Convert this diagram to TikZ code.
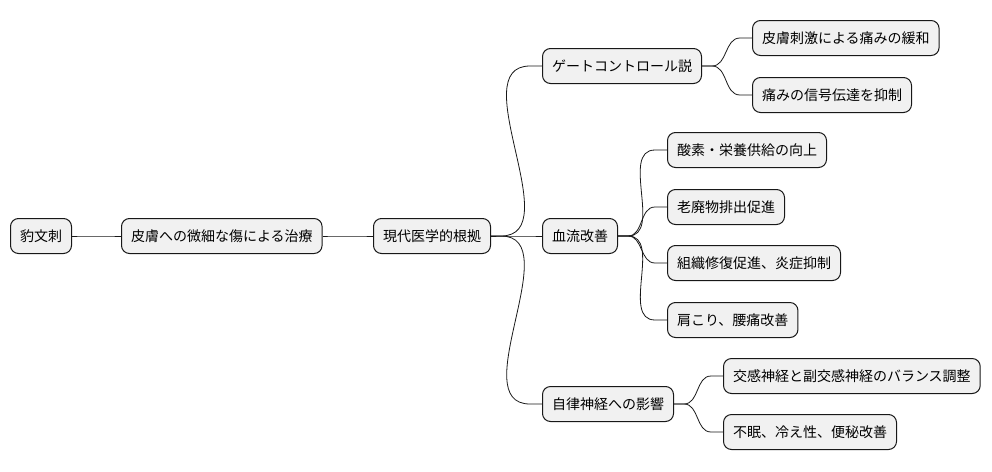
\documentclass[tikz,border=0pt]{standalone}
\usepackage{fontspec}
\setmainfont{Noto Sans CJK JP}
\definecolor{boxclr}{HTML}{F1F1F1}
\definecolor{lineclr}{HTML}{181818}
\begin{document}
\begin{tikzpicture}[x=1pt,y=-1pt,
	topic/.style={draw=lineclr, fill=boxclr, rounded corners=8pt, line width=1pt, inner xsep=9.5pt, minimum height=35pt, anchor=west, font=\fontsize{14pt}{16pt}\selectfont},
	link/.style={draw=lineclr, line width=0.8pt}]
	\useasboundingbox (0,0) rectangle (992,471);
\node[topic] (root) at (10,236) {豹文刺}; % Root
\node[topic] (treat) at (121,236) {皮膚への微細な傷による治療}; % Level.1
\node[topic] (basis) at (373,236) {現代医学的根拠}; % Level.2
\node[topic] (gate) at (542,66) {ゲートコントロール説}; % Level.3
\node[topic] (blood) at (542,236) {血流改善}; % Level.3
\node[topic] (nerve) at (542,404) {自律神経への影響}; % Level.3
\node[topic] (gate1) at (752,38) {皮膚刺激による痛みの緩和};
\node[topic] (gate2) at (752,95) {痛みの信号伝達を抑制};
\node[topic] (blood1) at (667,150) {酸素・栄養供給の向上};
\node[topic] (blood2) at (667,207) {老廃物排出促進};
\node[topic] (blood3) at (667,263) {組織修復促進、炎症抑制};
\node[topic] (blood4) at (667,320) {肩こり、腰痛改善};
\node[topic] (nerve1) at (723,376) {交感神経と副交感神経のバランス調整};
\node[topic] (nerve2) at (723,432) {不眠、冷え性、便秘改善};
\foreach \p/\c in {root/treat, treat/basis, basis/gate, basis/blood, basis/nerve, gate/gate1, gate/gate2, blood/blood1, blood/blood2, blood/blood3, blood/blood4, nerve/nerve1, nerve/nerve2}
	\draw[link] (\p.east) -- ++(10,0) to[out=0,in=180] ([xshift=-12pt]\c.west) -- (\c.west); % Branch
	\end{tikzpicture}
\end{document}
